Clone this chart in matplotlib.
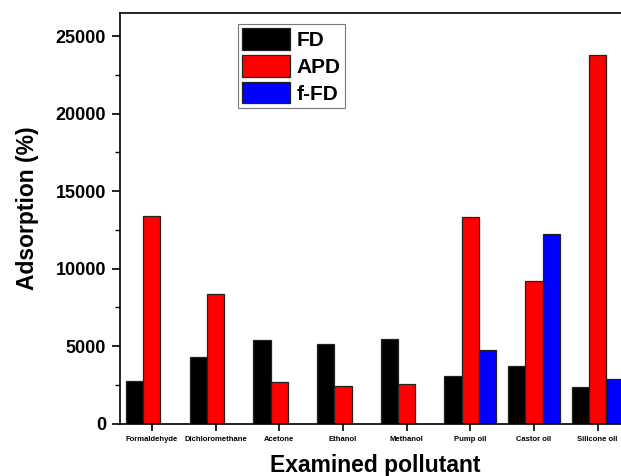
import matplotlib
matplotlib.use("Agg")
import matplotlib.pyplot as plt
import numpy as np
from matplotlib.ticker import MultipleLocator

pollutants = ["Formaldehyde", "Dichloromethane", "Acetone", "Ethanol",
              "Methanol", "Pump oil", "Castor oil", "Silicone oil"]
fd = [2770, 4300, 5380, 5160, 5480, 3060, 3720, 2390]
apd = [13400, 8350, 2670, 2450, 2580, 13350, 9200, 23820]
ffd_names = ["Pump oil", "Castor oil", "Silicone oil"]
ffd = [4750, 12250, 2880]

plt.rcParams["font.family"] = ["Liberation Sans", "DejaVu Sans"]
plt.rcParams["font.weight"] = "bold"

fig = plt.figure(figsize=(6.21, 4.76), dpi=100)
ax = fig.add_axes([120 / 621, 52.3 / 476, 509.5 / 621, 410.7 / 476])

x = np.arange(len(pollutants))
w = 0.27
edge = dict(edgecolor="#222222", linewidth=0.9)
ax.bar(x - w, fd, w, color="black", label="FD", **edge)
ax.bar(x, apd, w, color="#ff0000", label="APD", **edge)
xf = np.array([pollutants.index(n) for n in ffd_names])
ax.bar(xf + w, ffd, w, color="#0000ff", label="f-FD", **edge)

ax.set_xlim(-0.5, 7.5)
ax.set_ylim(0, 26500)
ax.set_xticks(x)
ax.set_xticklabels(pollutants, fontsize=5.5, fontweight="bold")
ax.yaxis.set_major_locator(MultipleLocator(5000))
ax.yaxis.set_minor_locator(MultipleLocator(2500))
ax.tick_params(axis="y", which="major", labelsize=13, length=6, width=1.2, pad=4)
ax.tick_params(axis="y", which="minor", length=3.5, width=1.0)
ax.tick_params(axis="x", which="major", length=5, width=1.2, pad=4)
for lab in ax.get_yticklabels():
    lab.set_fontweight("bold")

for spine in ax.spines.values():
    spine.set_linewidth(1.2)
ax.spines["right"].set_visible(False)

ax.set_ylabel("Adsorption (%)", fontsize=16.5, fontweight="bold")
ax.yaxis.set_label_coords(-0.159, 0.5245)
ax.set_xlabel("Examined pollutant", fontsize=16.5, fontweight="bold", labelpad=8)

leg = ax.legend(loc="upper left", bbox_to_anchor=(0.232, 0.973),
                prop={"weight": "bold", "size": 15}, frameon=True, fancybox=False,
                handlelength=2.3, handleheight=1.2, handletextpad=0.3,
                labelspacing=0.25, borderpad=0.2, borderaxespad=0)
leg.get_frame().set_edgecolor("#555555")
leg.get_frame().set_linewidth(0.8)

fig.savefig("out.png", dpi=100)
